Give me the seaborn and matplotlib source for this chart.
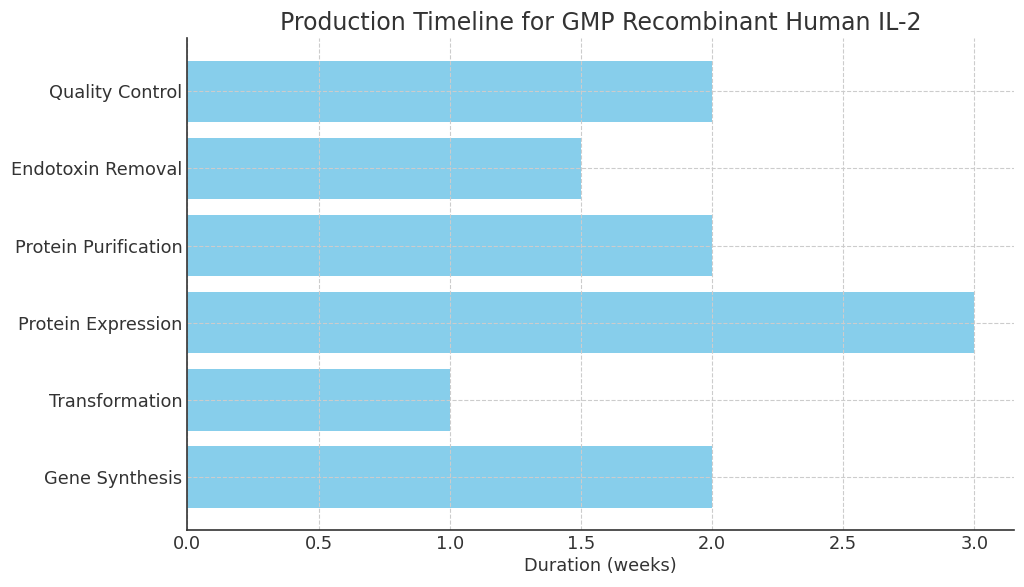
import matplotlib
matplotlib.use("Agg")
import matplotlib.pyplot as plt
import seaborn as sns
import pandas as pd

steps = ["Gene Synthesis", "Transformation", "Protein Expression",
         "Protein Purification", "Endotoxin Removal", "Quality Control"]
durations = [2, 1, 3, 2, 1.5, 2]

sns.set_style("white")
plt.rcParams['font.family'] = ['DejaVu Sans']
plt.rcParams['text.color'] = '#333333'
plt.rcParams['axes.labelcolor'] = '#333333'
plt.rcParams['xtick.color'] = '#333333'
plt.rcParams['ytick.color'] = '#333333'

df = pd.DataFrame({"Step": steps, "Duration": durations})

fig, ax = plt.subplots(figsize=(10.24, 5.87), dpi=100)
sns.barplot(data=df, x="Duration", y="Step", order=steps[::-1], orient="h",
            color="skyblue", saturation=1, width=0.8, linewidth=0, ax=ax)

n = len(steps)
ax.set_ylim(n - 1 + 0.4 + 0.29, -0.4 - 0.29)
ax.set_xlim(0, 3 * 1.05)
ax.set_xticks([0, 0.5, 1.0, 1.5, 2.0, 2.5, 3.0])
ax.set_title("Production Timeline for GMP Recombinant Human IL-2", fontsize=17, color='#333333')
ax.set_xlabel("Duration (weeks)", fontsize=12.8, labelpad=3)
ax.set_ylabel("")
ax.tick_params(axis='both', labelsize=12.8, direction='in', length=4)
ax.grid(True, linestyle='--', color='#cccccc', linewidth=0.8)
ax.set_axisbelow(False)
for s in ['top', 'right']:
    ax.spines[s].set_visible(False)
for s in ['left', 'bottom']:
    ax.spines[s].set_color('#333333')
    ax.spines[s].set_linewidth(1.2)
    ax.spines[s].set_zorder(4)

fig.subplots_adjust(left=0.183, right=0.99, top=0.935, bottom=0.097)
fig.savefig("out.png", dpi=100)
